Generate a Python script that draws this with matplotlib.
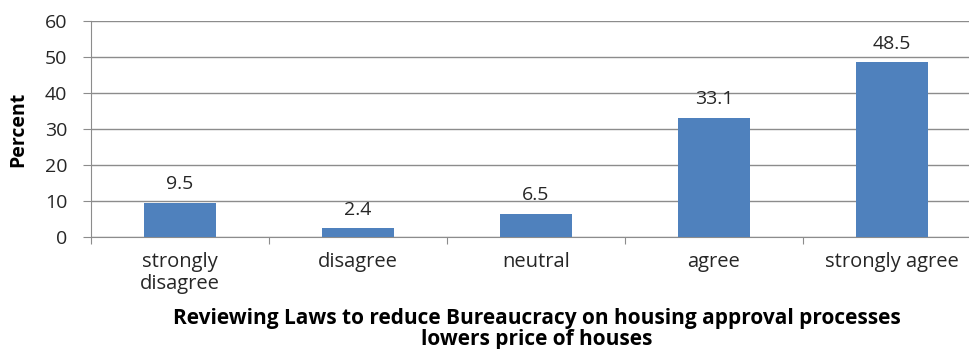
import matplotlib.pyplot as plt
import numpy as np

plt.rcParams['font.family'] = ['Open Sans', 'DejaVu Sans']

# Survey responses
categories = ['strongly\ndisagree', 'disagree', 'neutral', 'agree', 'strongly agree']
percent = [9.5, 2.4, 6.5, 33.1, 48.5]

fig = plt.figure(figsize=(9.69, 3.49), dpi=100)
ax = fig.add_axes([91 / 969, 1 - 237 / 349, 890 / 969, 216 / 349])

x = np.arange(len(categories))
bars = ax.bar(x, percent, width=0.4, color='#4f81bd', zorder=3)
for b, v in zip(bars, percent):
    ax.annotate(f'{v}', (b.get_x() + b.get_width() / 2, v), xytext=(0, 7),
                textcoords='offset points', ha='center', va='bottom',
                fontsize=14, color='#262626')

ax.set_xlim(-0.5, len(categories) - 0.5)
ax.set_ylim(0, 60)
ax.set_yticks(range(0, 61, 10))
ax.yaxis.grid(True, color='#8c8c8c', linewidth=1)
ax.set_axisbelow(True)

# category labels between boundary ticks
ax.set_xticks(np.arange(len(categories) + 1) - 0.5)
ax.set_xticklabels([])
ax.set_xticks(x, minor=True)
ax.set_xticklabels(categories, minor=True, fontsize=14.5, color='#262626',
                   linespacing=1.1)
ax.tick_params(axis='x', which='minor', length=0, pad=11)
ax.tick_params(axis='x', which='major', length=5, color='#8c8c8c')
ax.tick_params(axis='y', length=6, color='#8c8c8c', labelsize=14,
               labelcolor='#262626', pad=11)

for s in ['top', 'right']:
    ax.spines[s].set_visible(False)
for s in ['left', 'bottom']:
    ax.spines[s].set_color('#8c8c8c')

ax.set_ylabel('Percent', fontsize=14, fontweight='bold', labelpad=12)
fig.text(537 / 969, 1 - 329 / 349,
         'Reviewing Laws to reduce Bureaucracy on housing approval processes\nlowers price of houses',
         ha='center', va='center', fontsize=15, fontweight='bold',
         linespacing=1.0)

fig.savefig('out.png', dpi=100)
